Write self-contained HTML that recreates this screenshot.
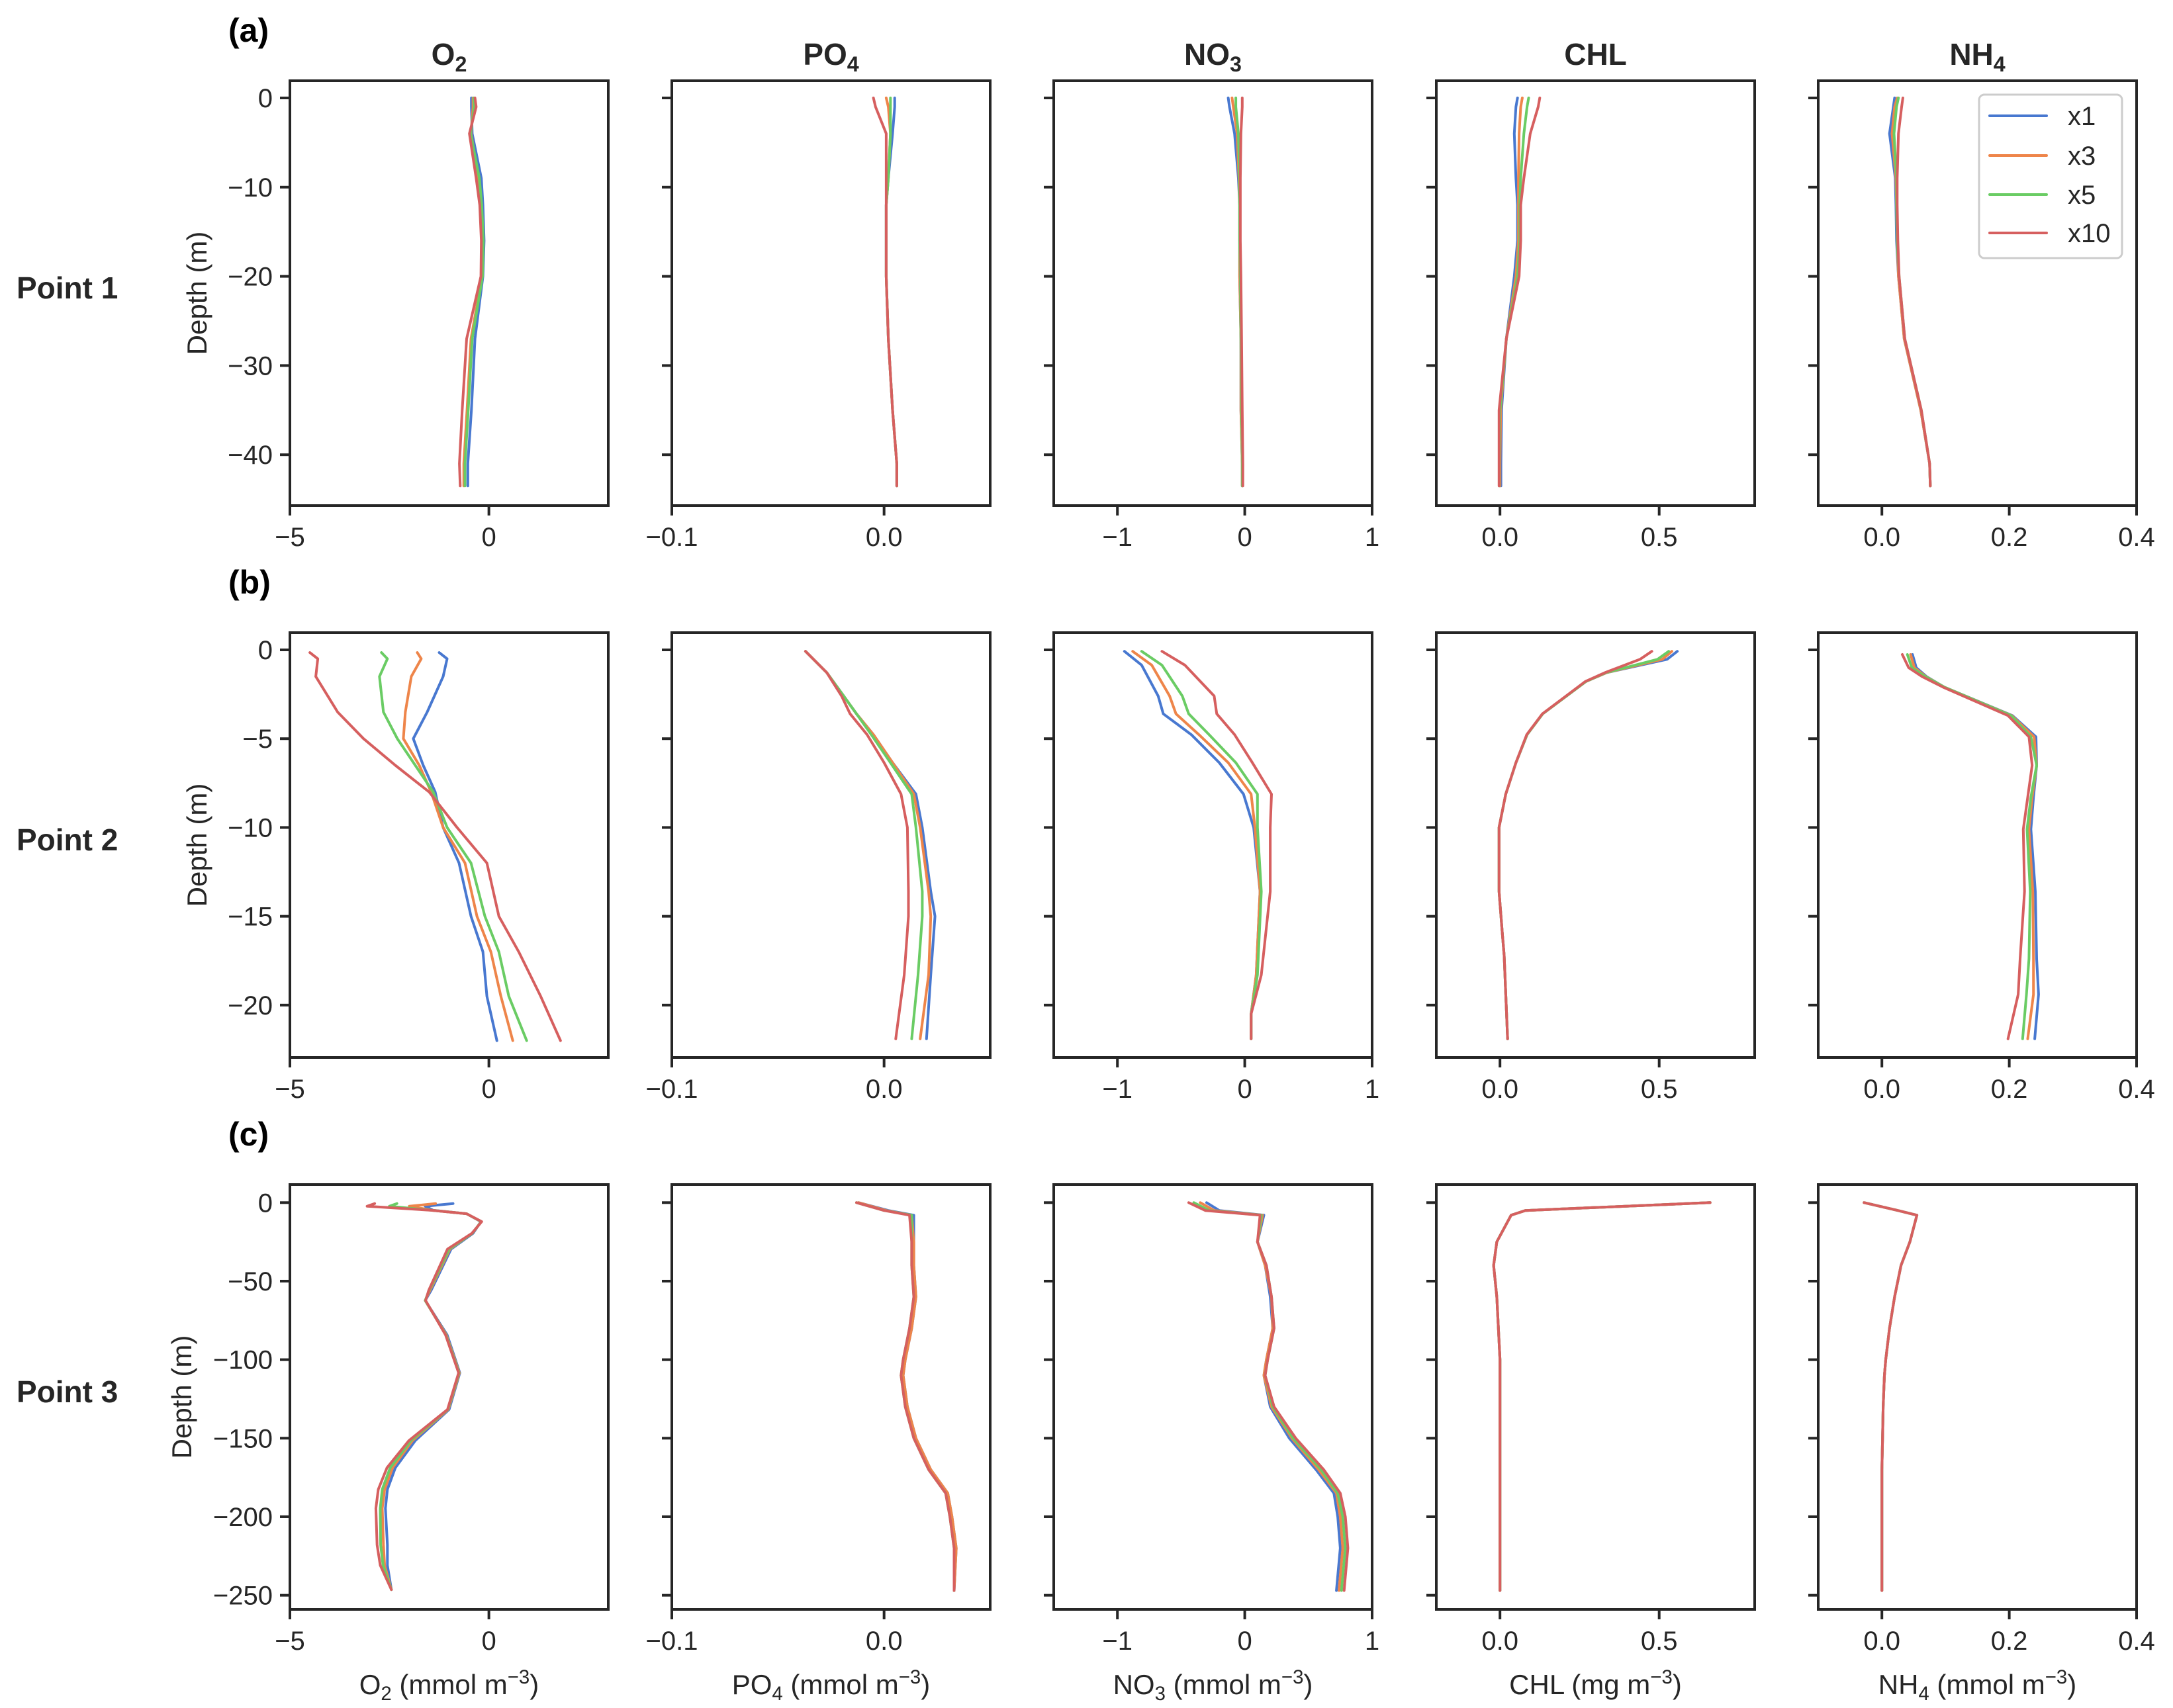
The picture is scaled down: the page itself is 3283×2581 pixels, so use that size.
<!DOCTYPE html>
<html><head><meta charset="utf-8">
<style>
html,body{margin:0;padding:0;background:#fff;}
svg{display:block;font-family:"Liberation Sans",Arial,sans-serif;}
</style></head>
<body>
<svg id="fig" width="3283" height="2581" viewBox="0 0 3283 2581" xmlns="http://www.w3.org/2000/svg"></svg>
<script>
// ---------- DATA ----------
const seriesNames = ["x1","x3","x5","x10"];
const colNames = ["O2","PO4","NO3","CHL","NH4"];
const rowNames = ["Point 1","Point 2","Point 3"];

// Row 1 (Point 1)
const r1Depth = [0,-1,-4,-9,-12,-16,-20,-27,-35,-41,-43.5];
const r1O2_x1  = [-0.44,-0.44,-0.42,-0.19,-0.15,-0.12,-0.15,-0.35,-0.44,-0.53,-0.53];
const r1O2_x3  = [-0.40,-0.40,-0.45,-0.26,-0.19,-0.15,-0.17,-0.45,-0.55,-0.63,-0.63];
const r1O2_x5  = [-0.38,-0.37,-0.46,-0.24,-0.18,-0.14,-0.16,-0.42,-0.52,-0.60,-0.60];
const r1O2_x10 = [-0.35,-0.32,-0.49,-0.32,-0.23,-0.19,-0.20,-0.56,-0.67,-0.74,-0.72];
const r1PO4_x1  = [0.005,0.005,0.004,0.002,0.001,0.001,0.001,0.002,0.004,0.006,0.006];
const r1PO4_x3  = [0.001,0.002,0.003,0.002,0.001,0.001,0.001,0.002,0.004,0.006,0.006];
const r1PO4_x5  = [0.003,0.003,0.003,0.002,0.001,0.001,0.001,0.002,0.004,0.006,0.006];
const r1PO4_x10 = [-0.005,-0.004,0.001,0.001,0.001,0.001,0.001,0.002,0.004,0.006,0.006];
const r1NO3_x1  = [-0.13,-0.12,-0.08,-0.05,-0.04,-0.04,-0.04,-0.03,-0.03,-0.02,-0.02];
const r1NO3_x3  = [-0.10,-0.09,-0.06,-0.045,-0.04,-0.04,-0.04,-0.03,-0.03,-0.02,-0.02];
const r1NO3_x5  = [-0.07,-0.07,-0.05,-0.04,-0.04,-0.04,-0.035,-0.03,-0.025,-0.02,-0.02];
const r1NO3_x10 = [-0.02,-0.02,-0.03,-0.035,-0.035,-0.035,-0.03,-0.025,-0.02,-0.015,-0.015];
const r1CHL_x1  = [0.055,0.05,0.045,0.05,0.055,0.055,0.045,0.02,0.005,0.003,0.003];
const r1CHL_x3  = [0.07,0.065,0.06,0.058,0.058,0.058,0.05,0.02,0.002,0.0,0.0];
const r1CHL_x5  = [0.09,0.085,0.075,0.065,0.062,0.062,0.055,0.02,0.0,-0.002,-0.002];
const r1CHL_x10 = [0.125,0.12,0.095,0.075,0.065,0.065,0.06,0.02,-0.003,-0.003,-0.003];
const r1NH4_x1  = [0.020,0.018,0.012,0.021,0.022,0.023,0.026,0.035,0.061,0.075,0.076];
const r1NH4_x3  = [0.024,0.020,0.016,0.022,0.023,0.024,0.026,0.035,0.061,0.075,0.076];
const r1NH4_x5  = [0.026,0.023,0.019,0.023,0.023,0.024,0.027,0.036,0.062,0.075,0.076];
const r1NH4_x10 = [0.033,0.031,0.026,0.024,0.024,0.025,0.027,0.036,0.062,0.075,0.076];

// Row 2 (Point 2)
const r2O2Depth = [-0.15,-0.5,-1.5,-3.5,-5,-6.5,-8,-10,-12,-15,-17,-19.5,-22];
const r2O2_x1  = [-1.25,-1.05,-1.15,-1.55,-1.9,-1.65,-1.35,-1.15,-0.75,-0.45,-0.15,-0.05,0.2];
const r2O2_x3  = [-1.8,-1.7,-1.95,-2.1,-2.15,-1.75,-1.45,-1.15,-0.6,-0.3,0.05,0.3,0.6];
const r2O2_x5  = [-2.7,-2.55,-2.75,-2.65,-2.3,-1.85,-1.4,-1.05,-0.45,-0.1,0.25,0.5,0.95];
const r2O2_x10 = [-4.5,-4.3,-4.35,-3.8,-3.15,-2.35,-1.5,-0.8,-0.05,0.25,0.75,1.3,1.8];
const r2PO4Depth = [-0.08,-1.28,-2.6,-3.6,-4.77,-6.35,-8.12,-10,-13.6,-15,-18.3,-21.9];
const r2PO4_x1  = [-0.037,-0.027,-0.019,-0.013,-0.005,0.004,0.015,0.018,0.022,0.024,0.022,0.020];
const r2PO4_x3  = [-0.037,-0.027,-0.019,-0.013,-0.005,0.004,0.014,0.017,0.021,0.022,0.021,0.017];
const r2PO4_x5  = [-0.037,-0.027,-0.019,-0.013,-0.006,0.003,0.013,0.015,0.018,0.018,0.016,0.013];
const r2PO4_x10 = [-0.037,-0.027,-0.020,-0.016,-0.008,0.000,0.008,0.011,0.0115,0.0115,0.0095,0.0055];
const r2NO3Depth = [-0.08,-0.86,-2.6,-3.6,-4.77,-6.35,-8.12,-10,-13.6,-18.3,-20.5,-21.9];
const r2NO3_x1  = [-0.945,-0.81,-0.68,-0.64,-0.42,-0.2,-0.01,0.07,0.12,0.09,0.05,0.05];
const r2NO3_x3  = [-0.88,-0.73,-0.59,-0.54,-0.36,-0.13,0.05,0.08,0.12,0.09,0.05,0.05];
const r2NO3_x5  = [-0.81,-0.65,-0.49,-0.44,-0.28,-0.07,0.1,0.1,0.13,0.1,0.05,0.05];
const r2NO3_x10 = [-0.65,-0.47,-0.24,-0.22,-0.08,0.06,0.21,0.2,0.2,0.13,0.05,0.05];
const r2CHLDepth = [-0.08,-0.53,-1.28,-1.78,-3.6,-4.77,-6.35,-8.12,-10,-13.6,-15.9,-17.2,-21.9];
const r2CHL_x1  = [0.557,0.525,0.335,0.27,0.134,0.085,0.05,0.018,-0.003,-0.003,0.007,0.013,0.024];
const r2CHL_x3  = [0.54,0.51,0.335,0.27,0.134,0.085,0.05,0.018,-0.003,-0.003,0.007,0.013,0.024];
const r2CHL_x5  = [0.53,0.495,0.333,0.27,0.134,0.085,0.05,0.018,-0.003,-0.003,0.007,0.013,0.024];
const r2CHL_x10 = [0.477,0.44,0.33,0.268,0.133,0.084,0.05,0.018,-0.003,-0.003,0.007,0.013,0.024];
const r2NH4Depth = [-0.26,-1.0,-1.5,-2.1,-3.7,-4.9,-6.5,-8.3,-10.1,-13.6,-17.4,-19.4,-21.9];
const r2NH4_x1  = [0.048,0.054,0.070,0.098,0.205,0.242,0.243,0.238,0.234,0.241,0.243,0.246,0.240];
const r2NH4_x3  = [0.045,0.051,0.069,0.098,0.204,0.239,0.243,0.236,0.231,0.237,0.238,0.238,0.229];
const r2NH4_x5  = [0.040,0.047,0.068,0.098,0.203,0.234,0.243,0.234,0.228,0.233,0.231,0.227,0.221];
const r2NH4_x10 = [0.032,0.042,0.063,0.096,0.198,0.231,0.236,0.229,0.222,0.224,0.217,0.214,0.198];

// Row 3 (Point 3)
const r3O2Depth = [-0.6,-2.3,-4.9,-7.1,-12.1,-19.6,-29.6,-55.8,-62.3,-84.2,-108.4,-131.7,-151.5,-168.8,-182.6,-194.6,-217.9,-230.9,-246.4];
const r3O2_x1  = [-0.9,-1.6,-1.4,-0.56,-0.2,-0.4,-0.95,-1.45,-1.6,-1.05,-0.73,-1.0,-1.85,-2.35,-2.55,-2.6,-2.55,-2.55,-2.45];
const r3O2_x3  = [-1.34,-2.0,-1.42,-0.56,-0.19,-0.42,-0.98,-1.48,-1.6,-1.07,-0.74,-1.02,-1.92,-2.42,-2.62,-2.68,-2.65,-2.62,-2.45];
const r3O2_x5  = [-2.31,-2.5,-1.44,-0.56,-0.19,-0.42,-1.0,-1.5,-1.6,-1.08,-0.75,-1.03,-1.96,-2.48,-2.68,-2.73,-2.72,-2.66,-2.45];
const r3O2_x10 = [-2.87,-3.06,-1.45,-0.56,-0.18,-0.43,-1.04,-1.51,-1.59,-1.09,-0.76,-1.04,-2.01,-2.56,-2.78,-2.84,-2.81,-2.73,-2.45];
const r3Depth = [0,-5,-8,-25,-40,-60,-80,-100,-110,-130,-150,-170,-185,-200,-220,-247];
const r3PO4_x1  = [-0.012,0.002,0.014,0.014,0.014,0.015,0.013,0.010,0.009,0.011,0.015,0.022,0.030,0.032,0.034,0.033];
const r3PO4_x3  = [-0.012,0.001,0.013,0.014,0.014,0.015,0.013,0.010,0.009,0.011,0.015,0.022,0.030,0.032,0.034,0.033];
const r3PO4_x5  = [-0.013,0.000,0.013,0.013,0.013,0.014,0.012,0.009,0.008,0.010,0.014,0.021,0.029,0.031,0.033,0.033];
const r3PO4_x10 = [-0.013,0.000,0.012,0.013,0.013,0.014,0.012,0.009,0.008,0.010,0.014,0.021,0.029,0.031,0.033,0.033];
const r3NO3_x1  = [-0.30,-0.20,0.15,0.10,0.16,0.20,0.22,0.17,0.15,0.20,0.35,0.56,0.70,0.73,0.75,0.72];
const r3NO3_x3  = [-0.35,-0.24,0.14,0.10,0.16,0.21,0.22,0.17,0.15,0.21,0.37,0.58,0.72,0.75,0.77,0.74];
const r3NO3_x5  = [-0.40,-0.28,0.13,0.10,0.17,0.21,0.23,0.18,0.16,0.22,0.38,0.60,0.73,0.77,0.79,0.76];
const r3NO3_x10 = [-0.44,-0.31,0.12,0.10,0.17,0.21,0.23,0.18,0.16,0.23,0.40,0.62,0.75,0.79,0.81,0.78];
const r3CHL_x1  = [0.66,0.08,0.035,-0.01,-0.02,-0.01,-0.005,0,0,0,0,0,0,0,0,0];
const r3CHL_x3  = [0.66,0.08,0.035,-0.01,-0.02,-0.01,-0.005,0,0,0,0,0,0,0,0,0];
const r3CHL_x5  = [0.66,0.08,0.035,-0.01,-0.02,-0.01,-0.005,0,0,0,0,0,0,0,0,0];
const r3CHL_x10 = [0.66,0.08,0.035,-0.01,-0.02,-0.01,-0.005,0,0,0,0,0,0,0,0,0];
const r3NH4_x1  = [-0.028,0.025,0.055,0.044,0.030,0.020,0.012,0.006,0.004,0.002,0.001,0.0,0,0,0,0];
const r3NH4_x3  = [-0.028,0.025,0.055,0.044,0.030,0.020,0.012,0.006,0.004,0.002,0.001,0.0,0,0,0,0];
const r3NH4_x5  = [-0.028,0.025,0.055,0.044,0.030,0.020,0.012,0.006,0.004,0.002,0.001,0.0,0,0,0,0];
const r3NH4_x10 = [-0.028,0.025,0.055,0.044,0.030,0.020,0.012,0.006,0.004,0.002,0.001,0.0,0,0,0,0];

// axis limits & ticks
const xLims = [[-5,3],[-0.1,0.05],[-1.5,1],[-0.2,0.8],[-0.1,0.4]];
const xTicks = [[-5,0],[-0.1,0.0],[-1,0,1],[0.0,0.5],[0.0,0.2,0.4]];
const xTickLabels = [["−5","0"],["−0.1","0.0"],["−1","0","1"],["0.0","0.5"],["0.0","0.2","0.4"]];
const yLims = [[-45.7,1.93],[-22.95,0.97],[-259,11.5]];
const yTicks = [[0,-10,-20,-30,-40],[0,-5,-10,-15,-20],[0,-50,-100,-150,-200,-250]];
const yTickLabels = [["0","−10","−20","−30","−40"],["0","−5","−10","−15","−20"],["0","−50","−100","−150","−200","−250"]];

const panelData = [
 [[r1Depth,[r1O2_x1,r1O2_x3,r1O2_x5,r1O2_x10]],[r1Depth,[r1PO4_x1,r1PO4_x3,r1PO4_x5,r1PO4_x10]],[r1Depth,[r1NO3_x1,r1NO3_x3,r1NO3_x5,r1NO3_x10]],[r1Depth,[r1CHL_x1,r1CHL_x3,r1CHL_x5,r1CHL_x10]],[r1Depth,[r1NH4_x1,r1NH4_x3,r1NH4_x5,r1NH4_x10]]],
 [[r2O2Depth,[r2O2_x1,r2O2_x3,r2O2_x5,r2O2_x10]],[r2PO4Depth,[r2PO4_x1,r2PO4_x3,r2PO4_x5,r2PO4_x10]],[r2NO3Depth,[r2NO3_x1,r2NO3_x3,r2NO3_x5,r2NO3_x10]],[r2CHLDepth,[r2CHL_x1,r2CHL_x3,r2CHL_x5,r2CHL_x10]],[r2NH4Depth,[r2NH4_x1,r2NH4_x3,r2NH4_x5,r2NH4_x10]]],
 [[r3O2Depth,[r3O2_x1,r3O2_x3,r3O2_x5,r3O2_x10]],[r3Depth,[r3PO4_x1,r3PO4_x3,r3PO4_x5,r3PO4_x10]],[r3Depth,[r3NO3_x1,r3NO3_x3,r3NO3_x5,r3NO3_x10]],[r3Depth,[r3CHL_x1,r3CHL_x3,r3CHL_x5,r3CHL_x10]],[r3Depth,[r3NH4_x1,r3NH4_x3,r3NH4_x5,r3NH4_x10]]]
];

// ---------- LAYOUT ----------
const colors = ["#4878d0","#ee854a","#6acc64","#d65f5f"];
const panelLefts = [438,1015,1592,2170,2747];
const panelTops = [122,956,1790];
const PW = 481, PH = 642;
const ink = "#262626";
const NS = "http://www.w3.org/2000/svg";
const svg = document.getElementById("fig");

function mk(tag, attrs, parent){
  const e = document.createElementNS(NS, tag);
  for (const k in attrs) e.setAttribute(k, attrs[k]);
  (parent||svg).appendChild(e);
  return e;
}
function sx(c, v){ const L=xLims[c]; return panelLefts[c] + (v-L[0])/(L[1]-L[0])*PW; }
function sy(r, d){ const L=yLims[r]; return panelTops[r] + (L[1]-d)/(L[1]-L[0])*PH; }
function subText(parent, x, y, parts, size, weight, anchor){
  const t = mk("text",{x:x,y:y,"font-size":size,"font-weight":weight||"normal","text-anchor":anchor||"middle",fill:ink},parent);
  parts.forEach(p=>{
    const s = mk("tspan",{},t);
    if(p.sub){ s.setAttribute("font-size", size*0.7); s.setAttribute("dy", size*0.22); }
    else if(p.sup){ s.setAttribute("font-size", size*0.7); s.setAttribute("dy", -size*0.38); }
    s.textContent = p.t;
    if(p.sub){ const r=mk("tspan",{dy:-size*0.22},t); r.textContent="\u200b"; }
    if(p.sup){ const r=mk("tspan",{dy:size*0.38},t); r.textContent="\u200b"; }
  });
  return t;
}

const defs = mk("defs",{});
for (let r=0;r<3;r++){
  for (let c=0;c<5;c++){
    const cp = mk("clipPath",{id:"clip"+r+"_"+c},defs);
    mk("rect",{x:panelLefts[c],y:panelTops[r],width:PW,height:PH},cp);
  }
}

for (let r=0;r<3;r++){
  for (let c=0;c<5;c++){
    const g = mk("g",{});
    
    
    const L = panelLefts[c], T = panelTops[r];
    const [depth, vals] = panelData[r][c];
    const lg = mk("g",{"clip-path":"url(#clip"+r+"_"+c+")"},g);
    vals.forEach((arr,si)=>{
      const pts = arr.map((v,i)=>sx(c,v).toFixed(1)+","+sy(r,depth[i]).toFixed(1)).join(" ");
      const pl = mk("polyline",{points:pts,fill:"none",stroke:colors[si],"stroke-width":4,"stroke-linejoin":"round","stroke-linecap":"round"},lg);
      
      
    });
    const fr = mk("rect",{x:L,y:T,width:PW,height:PH,fill:"none",stroke:ink,"stroke-width":4},g);
    
    
    yTicks[r].forEach((d,i)=>{
      const y = sy(r,d);
      const tk = mk("line",{x1:L-15,x2:L,y1:y,y2:y,stroke:ink,"stroke-width":4},g);
      
      
      if (c===0){
        const tl = mk("text",{x:L-26,y:y+14,"font-size":40,"text-anchor":"end",fill:ink},g);
        
        
        tl.textContent = yTickLabels[r][i];
      }
    });
    xTicks[c].forEach((v,i)=>{
      const x = sx(c,v);
      const tk = mk("line",{x1:x,x2:x,y1:T+PH,y2:T+PH+15,stroke:ink,"stroke-width":4},g);
      
      
      const tl = mk("text",{x:x,y:T+PH+61,"font-size":40,"text-anchor":"middle",fill:ink},g);
      
      
      tl.textContent = xTickLabels[c][i];
    });
  }
  const yx = r===2 ? 275 : 298;
  const yc = panelTops[r] + PH/2;
  const yt = mk("text",{x:0,y:0,"font-size":42,"text-anchor":"middle",fill:ink,transform:"translate("+(yx+14)+","+yc+") rotate(-90)"});
  
  
  yt.textContent = "Depth (m)";
  const rl = mk("text",{x:25,y:yc+8,"font-size":46,"font-weight":"bold",fill:ink});
  
  
  rl.textContent = rowNames[r];
  const pl = mk("text",{x:345,y:panelTops[r]-59,"font-size":50,"font-weight":"bold",fill:"#000"});
  
  
  pl.textContent = ["(a)","(b)","(c)"][r];
}

const titleParts = [[{t:"O"},{t:"2",sub:1}],[{t:"PO"},{t:"4",sub:1}],[{t:"NO"},{t:"3",sub:1}],[{t:"CHL"}],[{t:"NH"},{t:"4",sub:1}]];
titleParts.forEach((p,c)=>{
  const t = subText(svg, panelLefts[c]+PW/2, 98, p, 46, "bold", "middle");
  
  
});
const xlabParts = [
 [{t:"O"},{t:"2",sub:1},{t:" (mmol m"},{t:"−3",sup:1},{t:")"}],
 [{t:"PO"},{t:"4",sub:1},{t:" (mmol m"},{t:"−3",sup:1},{t:")"}],
 [{t:"NO"},{t:"3",sub:1},{t:" (mmol m"},{t:"−3",sup:1},{t:")"}],
 [{t:"CHL (mg m"},{t:"−3",sup:1},{t:")"}],
 [{t:"NH"},{t:"4",sub:1},{t:" (mmol m"},{t:"−3",sup:1},{t:")"}]
];
xlabParts.forEach((p,c)=>{
  const t = subText(svg, panelLefts[c]+PW/2, 2560, p, 42, "normal", "middle");
  
  
});

const lg = mk("g",{});


mk("rect",{x:2990,y:143,width:216,height:247,rx:8,fill:"#fff","fill-opacity":0.8,stroke:"#cccccc","stroke-width":3},lg);
const legY = [175,235,294,352];
seriesNames.forEach((n,i)=>{
  const e = mk("g",{},lg);
  
  
  mk("line",{x1:3006,x2:3092,y1:legY[i],y2:legY[i],stroke:colors[i],"stroke-width":4,"stroke-linecap":"round"},e);
  const t = mk("text",{x:3124,y:legY[i]+14,"font-size":40,fill:ink},e);
  t.textContent = n;
});
</script>
</body></html>
